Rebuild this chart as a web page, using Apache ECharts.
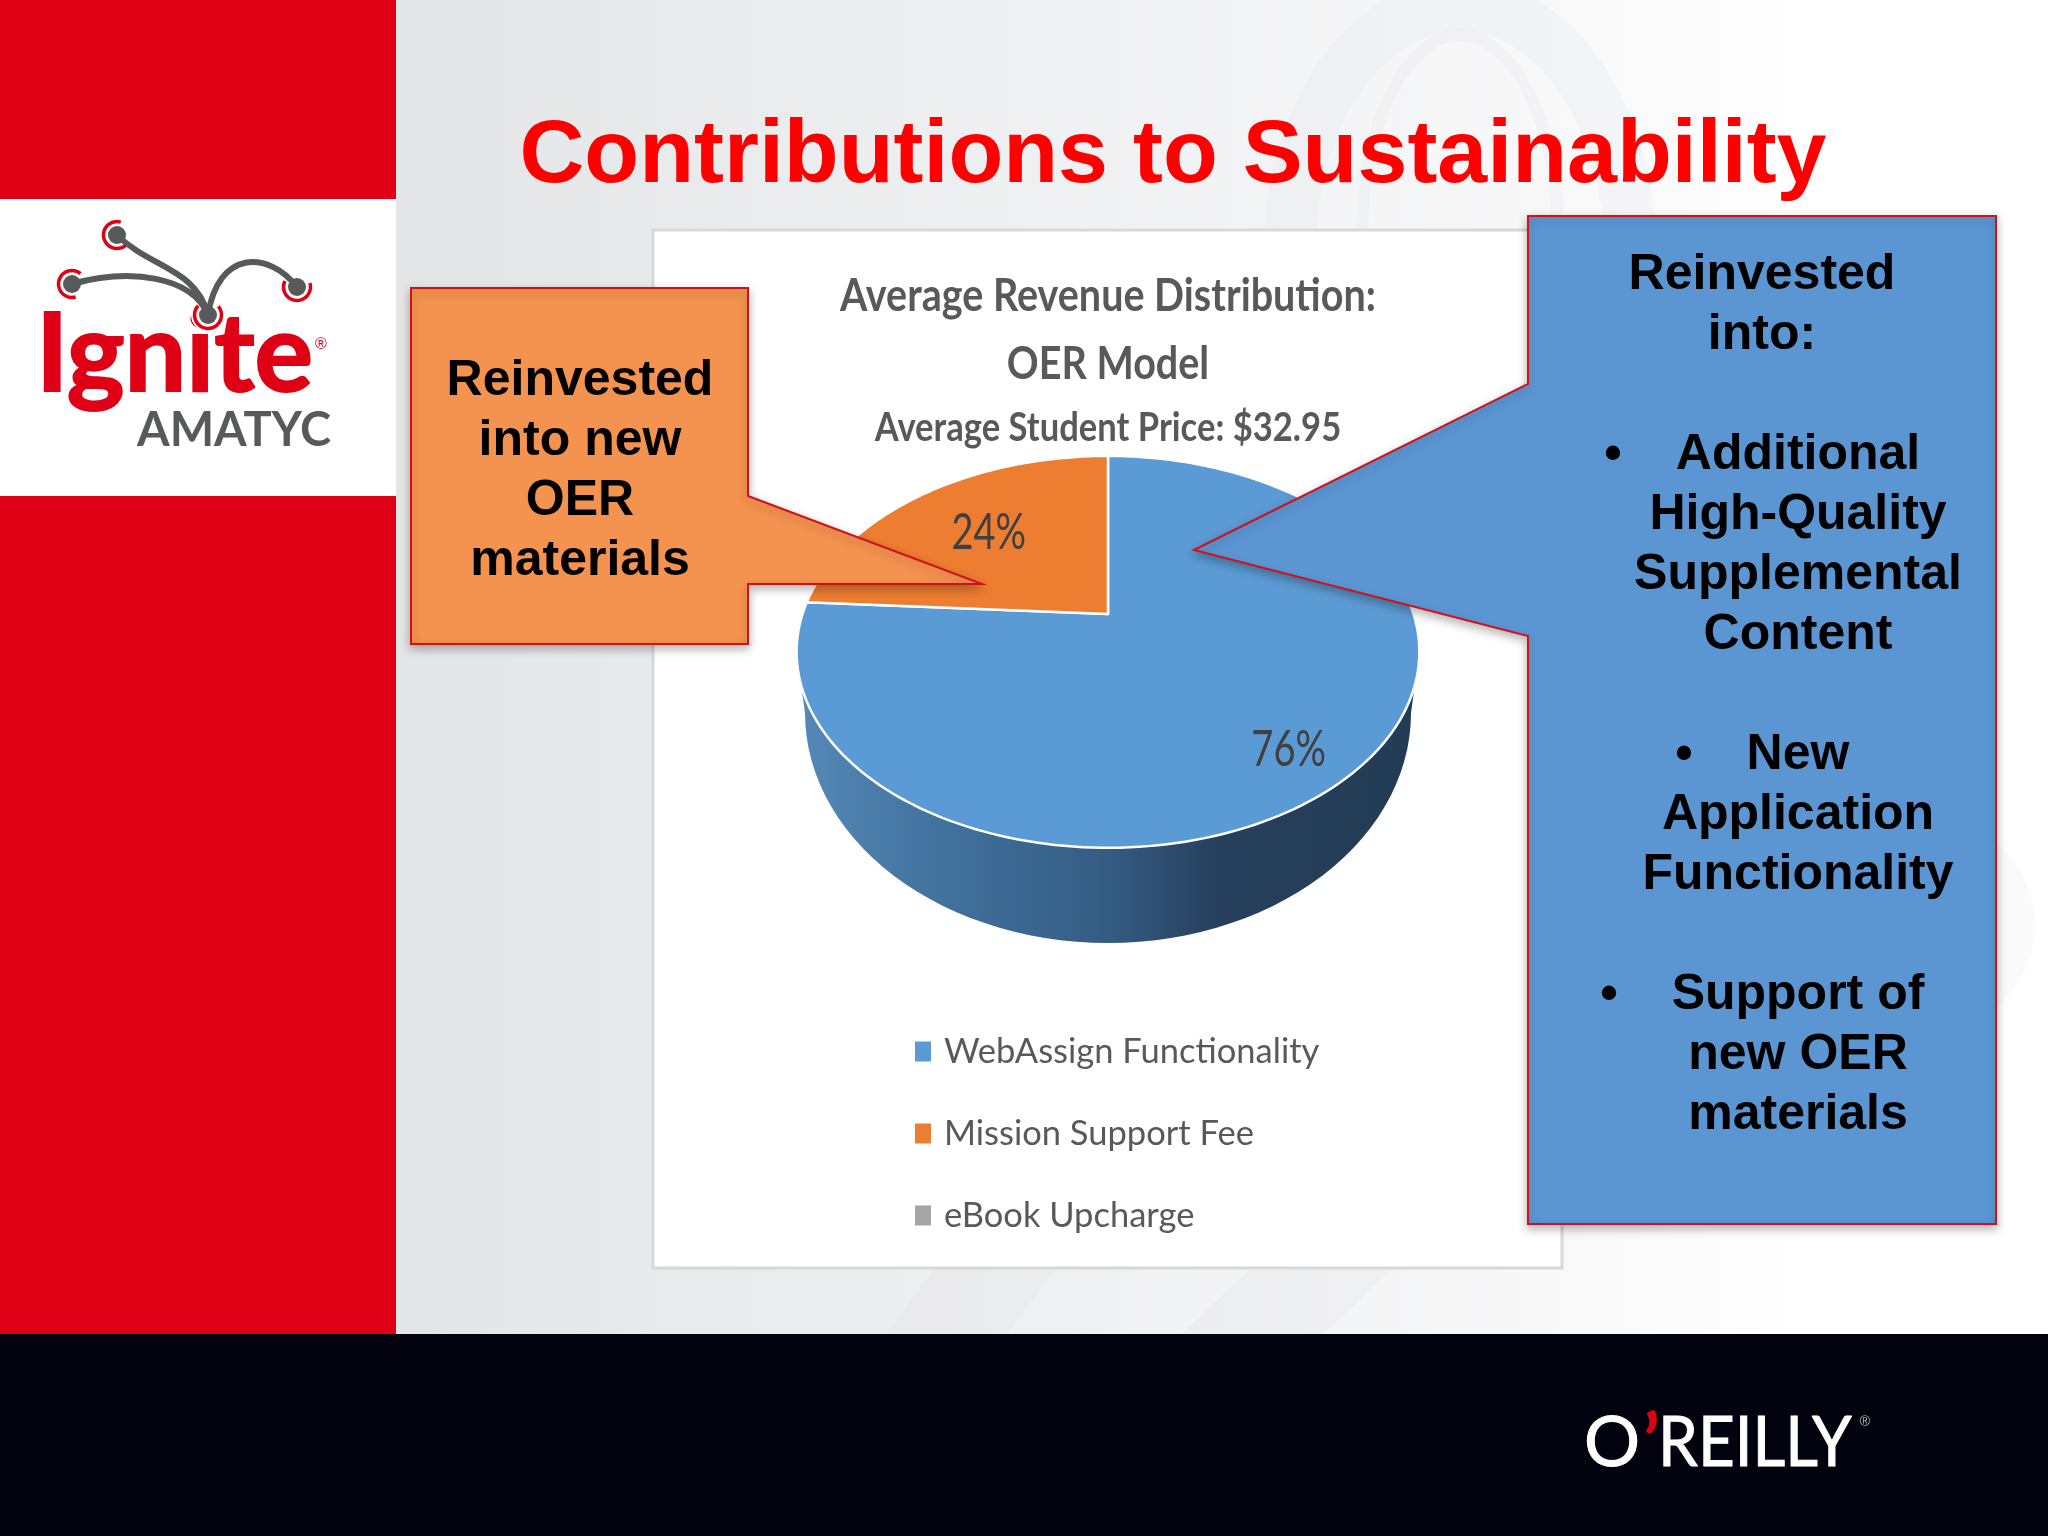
<!doctype html>
<html lang="en">
<head>
    <meta charset="utf-8">
    <title>Contributions to Sustainability</title>
    <script src="https://cdn.jsdelivr.net/npm/echarts@6/dist/echarts.min.js"></script>
    <style>
        html, body { margin: 0; padding: 0; background: #fff; }
        #main { width: 2048px; height: 1536px; }
    </style>
</head>
<body>
<div id="main"></div>
<script>
    // chart data
    const categories = ['WebAssign Functionality', 'Mission Support Fee', 'eBook Upcharge'];
    const shares = [76, 24, 0];
    const sliceColors = ['#5b9bd5', '#ed7d31', '#a5a5a5'];

    // slide text
    const slideTitle = 'Contributions to Sustainability';
    const chartTitleLines = ['Average Revenue Distribution:', 'OER Model'];
    const chartSubtitle = 'Average Student Price: $32.95';
    const leftCallout = ['Reinvested', 'into new', 'OER', 'materials'];
    const rightHeading = ['Reinvested', 'into:'];
    const rightBullets = [
        ['Additional', 'High-Quality', 'Supplemental', 'Content'],
        ['New', 'Application', 'Functionality'],
        ['Support of', 'new OER', 'materials']
    ];

    // pie geometry: a flat disc seen in perspective
    const PIE_X = 1108, APEX_Y = 614, PIE_A = 305.5, PIE_B = 188.6, PERSP = 0.1933;
    const BASE_Y = 713, BASE_RX = 303, BASE_RY = 230;
    const LABEL_R = [0.77, 0.62, 0.7], LABEL_DROP = [17, -3, 0];

    const project = (theta, r) => {
        const u = Math.sin(theta) * r, v = Math.cos(theta) * r;
        const w = 1 + PERSP * v;
        return [PIE_X + PIE_A * u / w, APEX_Y - PIE_B * v / w];
    };

    const arcPoints = (from, to) => {
        const pts = [];
        const steps = Math.max(2, Math.ceil(Math.abs(to - from) * 40));
        for (let i = 0; i <= steps; i++) {
            pts.push(project(from + (to - from) * i / steps, 1));
        }
        return pts;
    };

    const total = shares.reduce((a, b) => a + b, 0);

    const renderSlice = (index) => (params, api) => {
        const value = api.value(0);
        const before = shares.slice(0, index).reduce((a, b) => a + b, 0);
        if (!value) {
            return {type: 'group', children: []};
        }
        const start = before / total * Math.PI * 2;
        const end = (before + value) / total * Math.PI * 2;
        const children = [];

        // side wall sits under the biggest slice
        if (index === 0) {
            const topFront = arcPoints(Math.PI * 0.562, Math.PI * 1.438);
            const bottom = [];
            for (let i = 0; i <= 60; i++) {
                const a = Math.PI * i / 60;
                bottom.push([PIE_X + BASE_RX * Math.cos(a) * -1, BASE_Y + BASE_RY * Math.sin(a)]);
            }
            children.push({
                type: 'polygon',
                shape: {points: topFront.concat(bottom)},
                style: {
                    fill: new echarts.graphic.LinearGradient(0, 0, 1, 0, [
                        {offset: 0, color: '#5589b8'},
                        {offset: 0.25, color: '#40709c'},
                        {offset: 0.5, color: '#345c83'},
                        {offset: 0.68, color: '#263f5c'},
                        {offset: 1, color: '#233c55'}
                    ])
                }
            });
        }

        children.push({
            type: 'polygon',
            shape: {points: [[PIE_X, APEX_Y]].concat(arcPoints(start, end))},
            style: {fill: sliceColors[index], stroke: '#ffffff', lineWidth: 2.5, lineJoin: 'round'}
        });

        const mid = (start + end) / 2;
        const pos = project(mid, LABEL_R[index]);
        children.push({
            type: 'text',
            x: pos[0],
            y: pos[1] + LABEL_DROP[index],
            scaleY: 1.3,
            style: {
                text: value + '%',
                fontFamily: 'Lato',
                fontSize: 38,
                fill: '#404040',
                align: 'center',
                verticalAlign: 'middle'
            }
        });
        return {type: 'group', children};
    };

    // helper for one line of slide text, y is the baseline
    const line = (text, x, y, size, opts = {}) => ({
        type: 'text',
        x: x,
        y: y - size * (opts.font ? 0.35 : 0.26) * (opts.scaleY || 1),
        z: opts.z || 6,
        scaleX: opts.scaleX || 1,
        scaleY: opts.scaleY || 1,
        style: {
            text: text,
            fontFamily: opts.font || '"Liberation Sans"',
            fontWeight: opts.weight || 'bold',
            fontSize: size,
            fill: opts.color || '#000000',
            stroke: opts.stroke || null,
            lineWidth: opts.strokeWidth || 0,
            align: opts.align || 'center',
            verticalAlign: 'middle'
        }
    });

    const rect = (x, y, w, h, fill, z, extra = {}) => ({
        type: 'rect', z: z, shape: {x, y, width: w, height: h}, style: Object.assign({fill}, extra)
    });

    const callout = (points, fill) => ({
        type: 'polygon',
        z: 5,
        shape: {points},
        style: {
            fill: fill,
            stroke: '#d2101c',
            lineWidth: 2,
            shadowBlur: 10,
            shadowOffsetY: 4,
            shadowColor: 'rgba(0,0,0,0.28)'
        }
    });

    const elements = [];

    // slide background
    elements.push(rect(396, 0, 1652, 1334, new echarts.graphic.LinearGradient(0, 0, 1, 0, [
        {offset: 0, color: '#e4e5e7'},
        {offset: 0.35, color: '#eeeff1'},
        {offset: 0.7, color: '#f8f8f9'},
        {offset: 0.85, color: '#ffffff'},
        {offset: 1, color: '#ffffff'}
    ]), 0));

    // faint watermark shapes
    elements.push({
        type: 'ellipse', z: 0,
        shape: {cx: 1460, cy: 250, rx: 170, ry: 245},
        style: {fill: 'none', stroke: 'rgba(225,226,230,0.22)', lineWidth: 52}
    });
    elements.push({
        type: 'ellipse', z: 0,
        shape: {cx: 1460, cy: 235, rx: 98, ry: 200},
        style: {fill: 'none', stroke: 'rgba(225,226,230,0.2)', lineWidth: 12}
    });
    elements.push({
        type: 'polygon', z: 0,
        shape: {points: [[933, 1270], [1055, 1270], [1007, 1334], [886, 1334]]},
        style: {fill: 'rgba(215,215,220,0.16)'}
    });
    elements.push({
        type: 'polygon', z: 0,
        shape: {points: [[1249, 1270], [1392, 1270], [1323, 1334], [1181, 1334]]},
        style: {fill: 'rgba(215,215,220,0.14)'}
    });
    elements.push({
        type: 'circle', z: 0,
        shape: {cx: 1930, cy: 925, r: 105},
        style: {fill: 'rgba(230,230,232,0.2)'}
    });

    // side and bottom bars
    elements.push(rect(0, 0, 396, 1334, '#e00016', 0));
    elements.push(rect(0, 199, 396, 297, '#ffffff', 0));
    elements.push(rect(0, 1334, 2048, 202, '#03030f', 0));

    // chart panel
    elements.push(rect(653, 230, 909, 1038, '#ffffff', 1, {stroke: '#d8d8d8', lineWidth: 3}));

    // ignite logo
    const GREY = '#58595b', RED = '#e00016';
    elements.push(line('Ignite', 36, 394, 110, {font: 'Lato', color: RED, align: 'left', z: 1, scaleX: 0.996, stroke: RED, strokeWidth: 2}));
    elements.push(line('®', 321, 349, 16, {color: RED, z: 1, weight: 'normal'}));
    elements.push(line('AMATYC', 137, 447, 47, {font: 'Lato', color: GREY, align: 'left', z: 1}));
    elements.push({type: 'circle', z: 1, shape: {cx: 208, cy: 315, r: 17}, style: {fill: '#ffffff'}});
    [
        [117, 235, 150, 268, 196, 268, 208, 315],
        [72, 284, 130, 268, 192, 276, 208, 315],
        [297, 287, 268, 250, 218, 250, 208, 315]
    ].forEach((c) => {
        elements.push({
            type: 'bezierCurve', z: 1,
            shape: {x1: c[0], y1: c[1], cpx1: c[2], cpy1: c[3], cpx2: c[4], cpy2: c[5], x2: c[6], y2: c[7]},
            style: {fill: 'none', stroke: GREY, lineWidth: 6}
        });
    });
    [[117, 235, 0.9, 5.0], [72, 284, 1.3, 5.4], [297, 287, -0.3, 3.6], [208, 315, -0.7, 3.9]].forEach((n) => {
        elements.push({type: 'circle', z: 1, shape: {cx: n[0], cy: n[1], r: 9}, style: {fill: GREY}});
        elements.push({
            type: 'arc', z: 1,
            shape: {cx: n[0], cy: n[1], r: 13.5, startAngle: n[2], endAngle: n[3]},
            style: {fill: 'none', stroke: RED, lineWidth: 3.5}
        });
    });

    // o'reilly logo
    const WHITE = '#ffffff';
    elements.push(line('O', 1584, 1468, 70, {font: 'Lato', weight: 'normal', color: WHITE, align: 'left', z: 1, stroke: WHITE, strokeWidth: 1}));
    elements.push(line('’', 1643, 1471, 76, {font: 'Lato', weight: 'bold', color: RED, align: 'left', z: 1}));
    elements.push(line('REILLY', 1658, 1468, 70, {font: 'Lato', weight: 'normal', color: WHITE, align: 'left', z: 1, scaleX: 0.91, stroke: WHITE, strokeWidth: 1}));
    elements.push(line('®', 1865, 1426, 14, {color: '#bbbbbb', weight: 'normal', z: 1}));

    // slide title
    elements.push(line(slideTitle, 1173, 181, 89.8, {color: '#ff0000', z: 3}));

    // chart titles
    elements.push(line(chartTitleLines[0], 1108, 312, 39.5, {font: 'Lato', color: '#595959', z: 3, scaleY: 1.18}));
    elements.push(line(chartTitleLines[1], 1108, 380, 39.5, {font: 'Lato', color: '#595959', z: 3, scaleY: 1.18}));
    elements.push(line(chartSubtitle, 1108, 442, 34.6, {font: 'Lato', color: '#595959', z: 3, scaleY: 1.17}));

    // left callout
    elements.push(callout([[411, 288], [748, 288], [748, 496], [982, 584], [748, 584], [748, 644], [411, 644]], '#f4924f'));
    leftCallout.forEach((t, i) => {
        elements.push(line(t, 580, 394 + i * 60, 50));
    });

    // right callout
    elements.push(callout([[1528, 216], [1996, 216], [1996, 1224], [1528, 1224], [1528, 636], [1194, 550], [1528, 384]], '#5b96d3'));
    rightHeading.forEach((t, i) => {
        elements.push(line(t, 1762, 288 + i * 60, 50));
    });
    const bulletX = [1613, 1684, 1609];
    let baseY = 468;
    rightBullets.forEach((lines, b) => {
        elements.push(line('•', bulletX[b], baseY, 50));
        lines.forEach((t, i) => {
            elements.push(line(t, 1798, baseY + i * 60, 50));
        });
        baseY += (lines.length + 1) * 60;
    });

    const myChart = echarts.init(document.getElementById('main'), null, {renderer: 'canvas'});
    myChart.setOption({
        animation: false,
        backgroundColor: '#ffffff',
        legend: {
            data: categories,
            orient: 'vertical',
            left: 915,
            top: 1034,
            z: 3,
            padding: 0,
            icon: 'rect',
            itemWidth: 16,
            itemHeight: 20,
            itemGap: 47,
            selectedMode: false,
            textStyle: {
                fontFamily: 'Lato',
                fontSize: 34.5,
                color: '#595959',
                padding: [0, 0, 0, 8]
            }
        },
        graphic: {elements},
        series: categories.map((name, i) => ({
            type: 'custom',
            name: name,
            coordinateSystem: 'none',
            z: 2,
            silent: true,
            itemStyle: {color: sliceColors[i]},
            data: [[shares[i]]],
            renderItem: renderSlice(i)
        }))
    });
</script>
</body>
</html>
